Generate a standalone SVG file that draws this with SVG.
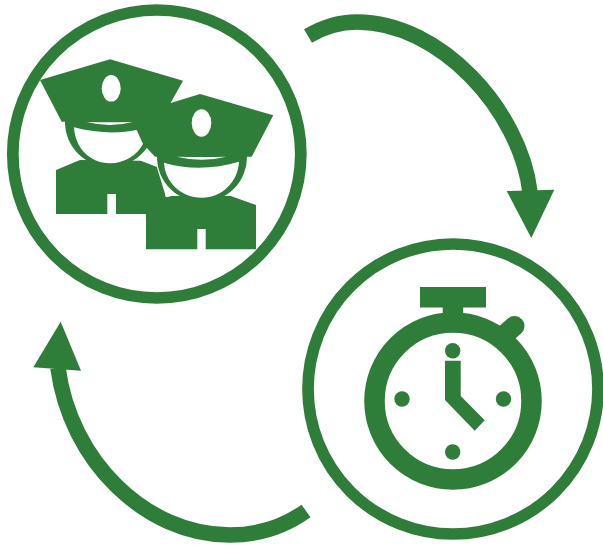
<svg xmlns="http://www.w3.org/2000/svg" width="603" height="545" viewBox="0 0 603 545">
<style>
.ring{fill:none;stroke:#2e7d38;stroke-width:11.700}
.fill{fill:#2e7d38}
.cut{fill:#fff}
.arc{fill:none;stroke:#2e7d38;stroke-width:15.500}
</style>
<rect width="603" height="545" fill="#fff"/>
<g id="connectors">
<path class="arc" d="M308,36C325,26 340,22 357,22C440,22 520,110 530,192"/>
<polygon class="fill" points="506.700,191 554.300,189.700 531.300,238"/>
<path class="arc" d="M306,511C285,526 258,535 230,535C145,535 70,460 58,368"/>
<polygon class="fill" points="60.700,321.700 33.300,367.300 81,370.700"/>
</g>
<g id="police-node">
<circle class="ring" cx="156.800" cy="154" r="144"/>
<g id="officer-back">
<polygon class="fill" points="56,170 80,160 140.700,160.700 156.700,166.700 166,197 166,214 116,214 116,194 107.300,194 107.300,214 56,214"/>
<circle class="fill" cx="110" cy="122" r="45"/>
<path class="cut" d="M74,127.300C95,133 118,134 136.700,130L143,144C137,155 125,163.300 110,163.300C90,163.300 75,148 74,127.300Z"/>
<polygon class="fill" points="40,80 110,59.300 183,80.700 160,122 61.700,121.700"/>
<ellipse class="cut" cx="111.200" cy="88.300" rx="9.500" ry="13.300"/>
<path class="cut" d="M86.700,122Q110,122.500 132.700,122Q110,128 86.700,122Z"/>
</g>
<g id="officer-front">
<polygon class="fill" points="146,203.300 170,196 230.700,196 256,205 256,249.300 205.700,249.300 205.700,229 197.300,229 197.300,249.300 146,249.300"/>
<circle class="fill" cx="202" cy="157" r="45"/>
<polygon class="cut" points="141,159.300 148.300,152.700 156,166.700"/>
<polygon class="cut" points="165,190 171.700,196 165.700,197.300"/>
<path class="cut" d="M164,162.700C188,170 215,169 239,161.700C238,182 222,197.700 201.700,197.700C181,197.700 165,182 164,162.700Z"/>
<polygon class="fill" points="131.700,115 200,94 273.300,115.300 251.700,156.700 155,156.700 144,145"/>
<ellipse class="cut" cx="201.500" cy="123" rx="9.800" ry="13.700"/>
<path class="cut" d="M176.700,156.700Q202,157.500 226,156.700Q202,163 176.700,156.700Z"/>
</g>
</g>
<g id="stopwatch-node">
<circle class="ring" cx="453" cy="389" r="145"/>
<rect class="fill" x="420" y="287" width="66" height="20.500"/>
<rect class="fill" x="442.700" y="305" width="20.500" height="18"/>
<path d="M503,336L514.500,326" fill="none" stroke="#2e7d38" stroke-width="20" stroke-linecap="round"/>
<circle cx="453" cy="401" r="78.500" fill="none" stroke="#2e7d38" stroke-width="20.500"/>
<circle class="fill" cx="402" cy="399" r="7.700"/>
<circle class="fill" cx="503.500" cy="399" r="7.700"/>
<circle class="fill" cx="452.700" cy="350.700" r="7.700"/>
<circle class="fill" cx="452.700" cy="452" r="7.700"/>
<polygon class="fill" points="445,360.700 460.700,360.700 460.700,396 484.700,420.300 474.700,430.700 445,400"/>
</g>
</svg>
